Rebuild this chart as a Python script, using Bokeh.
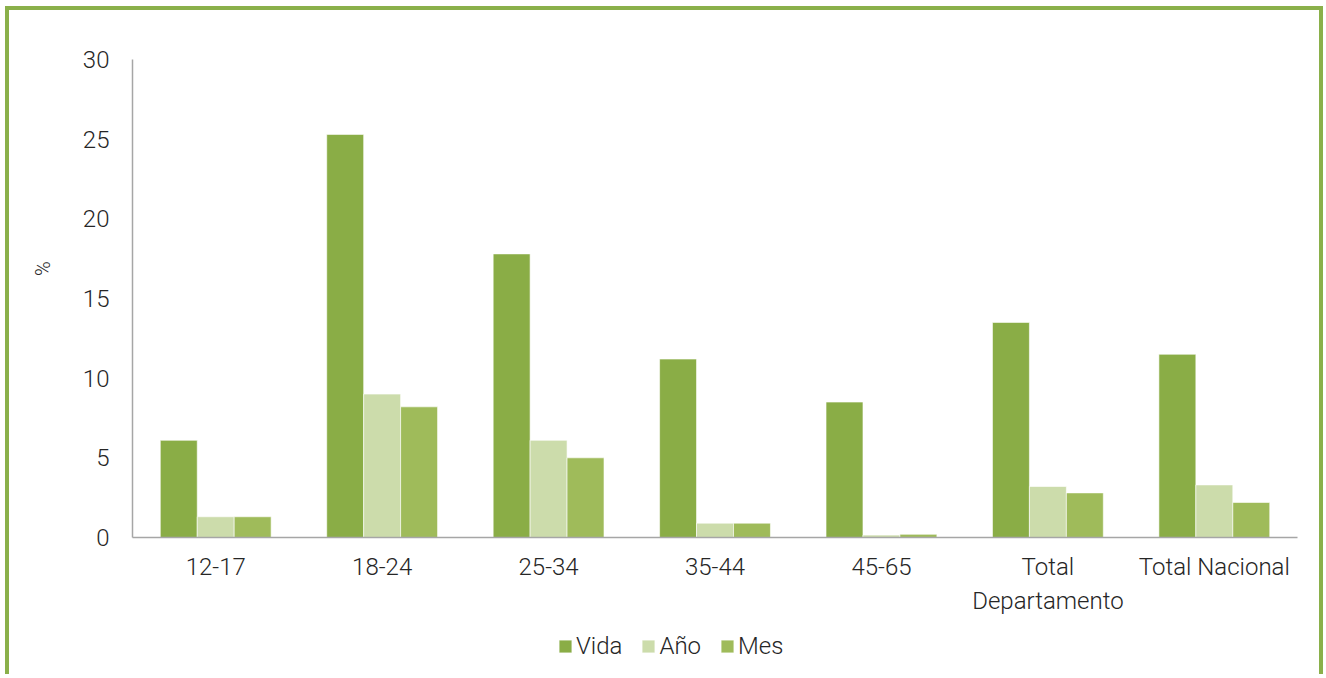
from bokeh.plotting import figure
from bokeh.models import ColumnDataSource, FixedTicker, Legend, LegendItem, Label, Range1d
from bokeh.transform import dodge
from bokeh.embed import file_html
from bokeh.resources import INLINE
import math

categories = ["12-17", "18-24", "25-34", "35-44", "45-65", "Total\nDepartamento", "Total Nacional"]
vida = [6.1, 25.3, 17.8, 11.2, 8.5, 13.5, 11.5]
anio = [1.3, 9.0, 6.1, 0.9, 0.15, 3.2, 3.3]
mes = [1.3, 8.2, 5.0, 0.9, 0.2, 2.8, 2.2]
series_names = ["Vida", "Año", "Mes"]
y_ticks = [0, 5, 10, 15, 20, 25, 30]

colors = ["#8aad46", "#ccdcab", "#9fbb5a"]
FONT = "Roboto Light, Roboto"
TXT = "#262626"

n = len(categories)
xc = [i + 0.5 for i in range(n)]
source = ColumnDataSource(dict(xc=xc, vida=vida, anio=anio, mes=mes))

p = figure(x_range=Range1d(-0.739, 7.180), y_range=Range1d(-8.85, 33.075),
           width=1318, height=668, output_backend="svg", toolbar_location=None,
           min_border_left=0, min_border_right=0, min_border_top=0, min_border_bottom=0)
p.styles = {"border-top": "4px solid #8ab04a", "border-left": "4px solid #8ab04a",
            "border-right": "4px solid #8ab04a", "margin-left": "5px", "margin-top": "6px"}
p.outline_line_color = None
p.xgrid.grid_line_color = None
p.ygrid.grid_line_color = None

bw = 0.222
renderers = []
for i, col in enumerate(["vida", "anio", "mes"]):
    r = p.vbar(x=dodge("xc", (i - 1) * bw), top=col, width=bw,
               source=source, fill_color=colors[i], line_color="white", line_width=0.6)
    renderers.append(r)

p.xaxis.ticker = FixedTicker(ticks=xc)
p.xaxis.major_label_overrides = {x: c for x, c in zip(xc, categories)}
p.xaxis.fixed_location = 0
p.xaxis.bounds = (0, n)
p.yaxis.ticker = FixedTicker(ticks=y_ticks)
p.yaxis.fixed_location = 0
p.yaxis.bounds = (y_ticks[0], y_ticks[-1])
for ax in (p.xaxis, p.yaxis):
    ax.axis_line_color = "#a6a6a6"
    ax.axis_line_width = 1.5
    ax.major_tick_line_color = None
    ax.minor_tick_line_color = None
    ax.major_label_text_font = FONT
    ax.major_label_text_font_size = "24px"
    ax.major_label_text_color = TXT
p.yaxis.major_label_standoff = 17
p.xaxis.major_label_standoff = 10

lbl = Label(x=-0.535, y=16.88, text="%", angle=math.pi / 2,
            text_font=FONT, text_font_size="20px", text_color=TXT,
            text_align="center", text_baseline="middle")
p.add_layout(lbl)

legend = Legend(items=[LegendItem(label=s, renderers=[r]) for s, r in zip(series_names, renderers)],
                orientation="horizontal", location=(548, 18), padding=0, margin=0,
                spacing=18, label_standoff=3, glyph_width=16, glyph_height=16,
                label_text_font=FONT, label_text_font_size="24px", label_text_color=TXT,
                border_line_color=None, background_fill_alpha=0)
p.add_layout(legend, "center")

open("out.html", "w").write(file_html(p, INLINE))
